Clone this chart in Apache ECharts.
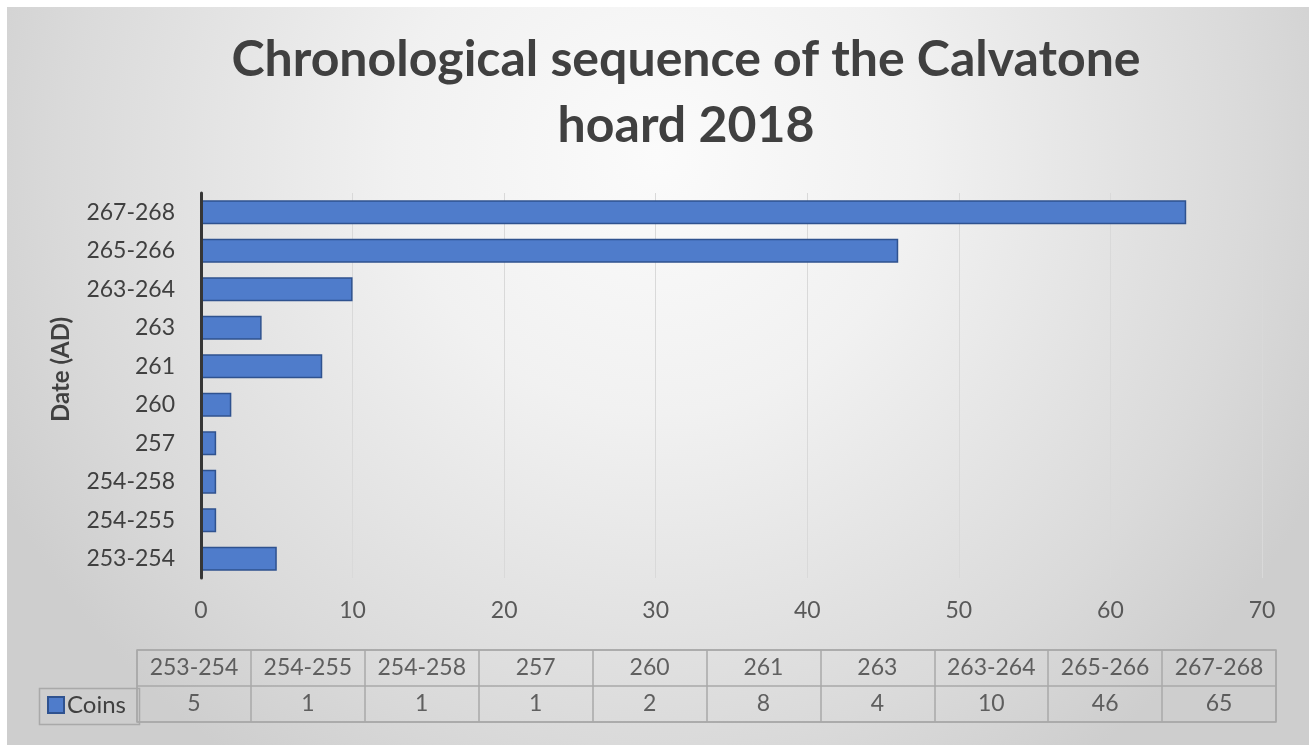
<!DOCTYPE html>
<html>
<head>
<meta charset="utf-8">
<script src="https://cdn.jsdelivr.net/npm/echarts@6/dist/echarts.min.js"></script>
<style>
  html, body { margin: 0; padding: 0; background: #ffffff; }
  #chart { position: absolute; left: 7px; top: 7px; width: 1302px; height: 738px; }
</style>
</head>
<body>
<div id="chart"></div>
<script>
const titleText = 'Chronological sequence of the Calvatone\nhoard 2018';
const categories = ['253-254', '254-255', '254-258', '257', '260', '261', '263', '263-264', '265-266', '267-268'];
const coins = [5, 1, 1, 1, 2, 8, 4, 10, 46, 65];
const seriesName = 'Coins';
const axisTitle = 'Date (AD)';
const xMin = 0, xMax = 70, xInterval = 10;
const tableRows = ['value', 'header'];

const FONT = 'Lato';
const TXT = '#404040';

const chart = echarts.init(document.getElementById('chart'), null, { renderer: 'canvas' });

const headerData = categories.map((c, i) => ({ value: [i, 1], labelText: c }));
const valueData = categories.map((c, i) => ({ value: [i, 0], labelText: String(coins[i]) }));

const tableLabel = {
  show: true, position: 'inside',
  formatter: p => p.data.labelText,
  fontFamily: FONT, fontSize: 23, color: TXT
};

const option = {
  backgroundColor: {
    type: 'radial', x: 0.5, y: 0.2, r: 1.0,
    colorStops: [
      { offset: 0, color: '#fbfbfb' },
      { offset: 0.35, color: '#f1f1f1' },
      { offset: 0.8, color: '#dadada' },
      { offset: 1, color: '#cecece' }
    ]
  },
  textStyle: { fontFamily: FONT },
  title: {
    text: titleText,
    left: 679, top: 20, padding: 0,
    textAlign: 'center',
    textStyle: { fontFamily: FONT, fontSize: 50, fontWeight: 'bold', color: TXT, lineHeight: 66 }
  },
  legend: {
    data: [seriesName],
    left: 35, top: 681,
    icon: 'rect', itemWidth: 16, itemHeight: 16, itemGap: 6,
    textStyle: { fontFamily: FONT, fontSize: 24, color: TXT, padding: [0, 0, 0, -2] },
    selectedMode: false
  },
  graphic: [
    { type: 'rect', left: 30, top: 679, shape: { width: 100, height: 36 }, z: -1,
      style: { fill: 'none', stroke: '#a9a9a9', lineWidth: 1.5 } }
  ],
  grid: [
    { left: 194, width: 1061, top: 186, height: 385, containLabel: false },
    { left: 130, width: 1139, top: 643, height: 72, show: true, borderColor: '#a9a9a9', borderWidth: 1.5, backgroundColor: 'transparent' }
  ],
  xAxis: [
    {
      gridIndex: 0, type: 'value', min: xMin, max: xMax, interval: xInterval,
      axisLine: { show: false }, axisTick: { show: false },
      axisLabel: { fontFamily: FONT, fontSize: 23, color: '#595959', margin: 21 },
      splitLine: { show: true, lineStyle: { color: '#d9d9d9', width: 1 } }
    },
    {
      gridIndex: 1, type: 'category', data: categories, boundaryGap: true,
      axisLine: { show: false }, axisTick: { show: false }, axisLabel: { show: false },
      splitLine: { show: true, lineStyle: { color: '#a9a9a9', width: 1.5 } }
    }
  ],
  yAxis: [
    {
      gridIndex: 0, type: 'category', data: categories, z: 10,
      axisLine: { show: true, lineStyle: { color: '#363636', width: 3 } },
      axisTick: { show: false },
      axisLabel: { fontFamily: FONT, fontSize: 23, color: TXT, margin: 26 },
      name: axisTitle, nameLocation: 'middle', nameGap: 128, nameRotate: 90,
      nameTextStyle: { fontFamily: FONT, fontSize: 24, fontWeight: 'bold', color: TXT, padding: [0, 0, 0, 32] }
    },
    {
      gridIndex: 1, type: 'category', data: tableRows,
      axisLine: { show: false }, axisTick: { show: false }, axisLabel: { show: false },
      splitLine: { show: true, lineStyle: { color: '#a9a9a9', width: 1.5 } }
    }
  ],
  series: [
    {
      name: seriesName, type: 'bar', xAxisIndex: 0, yAxisIndex: 0,
      data: coins, barWidth: '62%',
      itemStyle: { color: '#4f7ccb', borderColor: '#2f528f', borderWidth: 1.5 },
      silent: true
    },
    {
      type: 'scatter', xAxisIndex: 1, yAxisIndex: 1, data: headerData, symbolSize: 2,
      itemStyle: { color: 'rgba(0,0,0,0)' }, silent: true, label: tableLabel
    },
    {
      type: 'scatter', xAxisIndex: 1, yAxisIndex: 1, data: valueData, symbolSize: 2,
      itemStyle: { color: 'rgba(0,0,0,0)' }, silent: true, label: tableLabel
    }
  ],
  animation: false
};
chart.setOption(option);
</script>
</body>
</html>
